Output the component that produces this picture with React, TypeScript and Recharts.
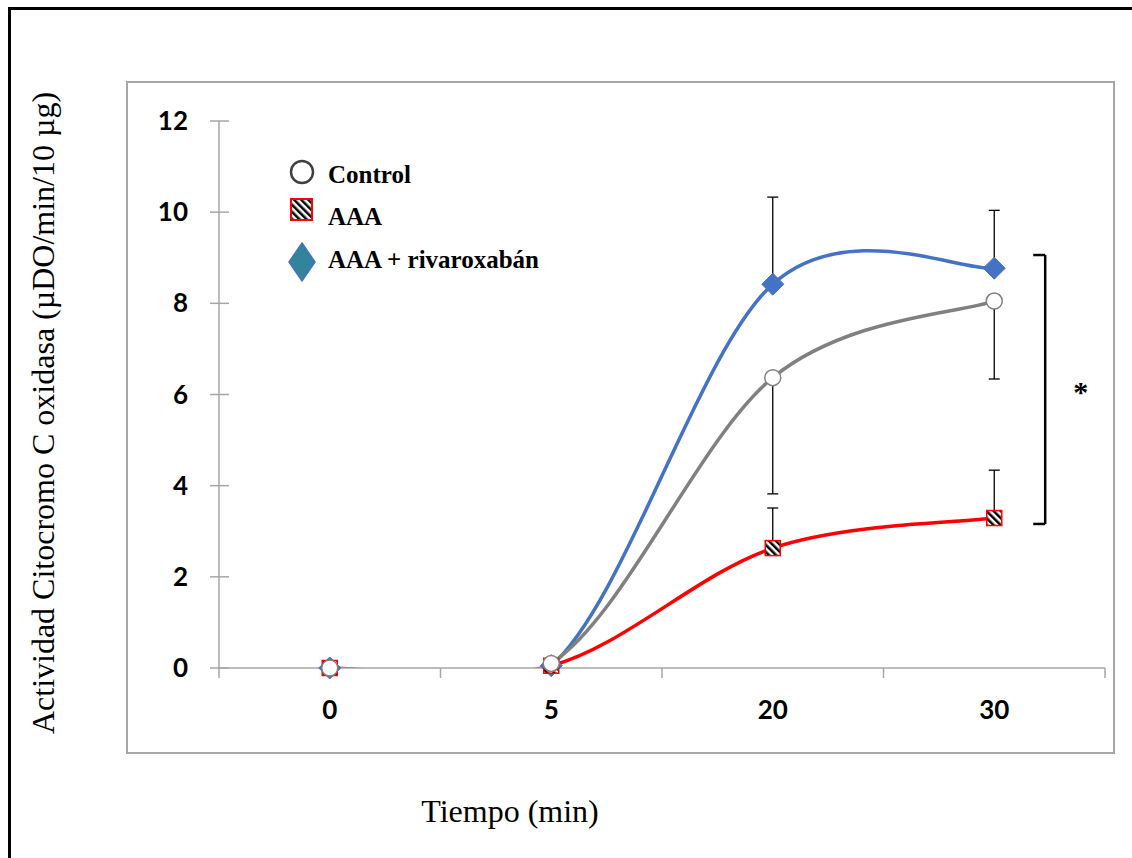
import React from 'react';
import {
  ComposedChart, Line, XAxis, YAxis, ErrorBar, Legend, ReferenceLine, ReferenceDot,
} from 'recharts';

const CATEGORIES = ['0', '5', '20', '30'];
const CONTROL = [0, 0.1, 6.37, 8.05];
const AAA = [0, 0.05, 2.63, 3.29];
const RIVA = [0, 0.05, 8.42, 8.77];
// error bars as drawn in the figure (one side each)
const CONTROL_ERR_DOWN = [0, 0, 2.55, 1.71];
const AAA_ERR_UP = [0, 0, 0.88, 1.05];
const RIVA_ERR_UP = [0, 0, 1.91, 1.27];
const Y_TICKS = [0, 2, 4, 6, 8, 10, 12];
const X_TICKS = [-0.5, 0, 0.5, 1, 1.5, 2, 2.5, 3, 3.5];

const rows = CATEGORIES.map((c, i) => ({
  idx: i,
  name: c,
  control: CONTROL[i],
  aaa: AAA[i],
  riva: RIVA[i],
  controlErr: [CONTROL_ERR_DOWN[i], 0],
  aaaErr: [0, AAA_ERR_UP[i]],
  rivaErr: [0, RIVA_ERR_UP[i]],
}));

const SERIF = '"Liberation Serif", "Times New Roman", serif';
const TICK_FONT = 'Lato, "Liberation Sans", sans-serif';
const AXIS_GREY = '#A6A6A6';

// Excel-like smoothed line (Catmull-Rom as cubic beziers)
function excelSmooth(context: any) {
  let pts: number[][] = [];
  return {
    areaStart() {},
    areaEnd() {},
    lineStart() { pts = []; },
    point(x: number, y: number) { pts.push([+x, +y]); },
    lineEnd() {
      if (!pts.length) return;
      context.moveTo(pts[0][0], pts[0][1]);
      for (let i = 0; i < pts.length - 1; i++) {
        const p0 = pts[i - 1] || pts[i];
        const p1 = pts[i];
        const p2 = pts[i + 1];
        const p3 = pts[i + 2] || p2;
        context.bezierCurveTo(
          p1[0] + (p2[0] - p0[0]) / 6, p1[1] + (p2[1] - p0[1]) / 6,
          p2[0] - (p3[0] - p1[0]) / 6, p2[1] - (p3[1] - p1[1]) / 6,
          p2[0], p2[1],
        );
      }
    },
  };
}

const CircleDot = (props: any) => {
  const { cx, cy, index } = props;
  return <circle key={`c-${index}`} cx={cx} cy={cy} r={8} fill="#fff" stroke="#7F7F7F" strokeWidth={1.5} />;
};

const SquareDot = (props: any) => {
  const { cx, cy, index } = props;
  return (
    <rect key={`s-${index}`} x={cx - 7.5} y={cy - 7.5} width={15} height={15}
      fill="url(#hatch)" stroke="#FF0000" strokeWidth={1.5} />
  );
};

const DiamondDot = (props: any) => {
  const { cx, cy, index } = props;
  const h = 11;
  return (
    <polygon key={`d-${index}`} points={`${cx},${cy - h} ${cx + h},${cy} ${cx},${cy + h} ${cx - h},${cy}`}
      fill="#4472C4" stroke="#4472C4" strokeWidth={1} />
  );
};

const YTick = (props: any) => {
  const { x, y, payload } = props;
  return (
    <g>
      <line x1={x - 9} x2={x + 10} y1={y} y2={y} stroke={AXIS_GREY} strokeWidth={1.5} />
      <text x={x - 31} y={y + 9} textAnchor="end" fontFamily={TICK_FONT} fontWeight="bold" fontSize={26} fill="#000">
        {payload.value}
      </text>
    </g>
  );
};

const XTick = (props: any) => {
  const { x, y, payload } = props;
  const v = payload.value;
  if (Number.isInteger(v)) {
    return (
      <text x={x} y={y + 51} textAnchor="middle" fontFamily={TICK_FONT} fontWeight="bold" fontSize={26} fill="#000">
        {CATEGORIES[v]}
      </text>
    );
  }
  return <line x1={x} x2={x} y1={y} y2={y + 10} stroke={AXIS_GREY} strokeWidth={1.5} />;
};

const LegendBox = () => (
  <svg width={320} height={140}>
    <circle cx={17} cy={22} r={11} fill="#fff" stroke="#404040" strokeWidth={2.5} />
    <text x={43} y={33} fontFamily={SERIF} fontWeight="bold" fontSize={25} fill="#000">Control</text>
    <rect x={6} y={49} width={21} height={21} fill="url(#hatch)" stroke="#FF0000" strokeWidth={2} />
    <text x={43} y={75} fontFamily={SERIF} fontWeight="bold" fontSize={25} fill="#000">AAA</text>
    <polygon points="17,93 30,112 17,131 4,112" fill="#31849B" stroke="#4472C4" strokeWidth={1.5} />
    <text x={43} y={118} fontFamily={SERIF} fontWeight="bold" fontSize={25} fill="#000">AAA + rivaroxabán</text>
  </svg>
);

export default function App() {
  return (
    <div style={{ position: 'absolute', left: 0, top: 0, width: 1132, height: 858, background: '#fff', overflow: 'hidden' }}>
      <svg width={0} height={0} style={{ position: 'absolute' }}>
        <defs>
          <pattern id="hatch" patternUnits="userSpaceOnUse" width={5} height={5} patternTransform="rotate(-45)">
            <rect width={5} height={5} fill="#fff" />
            <rect width={2.5} height={5} fill="#000" />
          </pattern>
        </defs>
      </svg>
      {/* outer frame */}
      <div style={{ position: 'absolute', left: 8, top: 7, width: 1200, height: 900, borderLeft: '3px solid #000', borderTop: '3px solid #000' }} />
      {/* plot frame */}
      <div style={{ position: 'absolute', left: 126, top: 81, width: 985, height: 669, border: `2px solid ${AXIS_GREY}` }} />

      <div style={{ position: 'absolute', left: 0, top: 0 }}>
        <ComposedChart width={1132} height={858} data={rows} margin={{ top: 121, right: 27, bottom: 130, left: 0 }}>
          <XAxis
            type="number"
            dataKey="idx"
            domain={[-0.5, 3.5]}
            ticks={X_TICKS}
            interval={0}
            height={60}
            tickSize={0}
            tickMargin={0}
            tickLine={false}
            axisLine={{ stroke: AXIS_GREY, strokeWidth: 1.5 }}
            tick={<XTick />}
          />
          <YAxis
            yAxisId="main"
            type="number"
            domain={[0, 12]}
            ticks={Y_TICKS}
            interval={0}
            width={219}
            tickSize={0}
            tickMargin={0}
            tickLine={false}
            axisLine={{ stroke: AXIS_GREY, strokeWidth: 1.5 }}
            tick={<YTick />}
          />
          {/* same scale, but clips the smoothed lines to the plot area like Excel does */}
          <YAxis yAxisId="clip" type="number" domain={[0, 12]} allowDataOverflow hide width={0} />
          <Legend layout="vertical" align="center" verticalAlign="middle" content={<LegendBox />}
            wrapperStyle={{ left: 285, top: 150, width: 320, height: 140 }} />
          <ReferenceLine yAxisId="main" segment={[{ x: 3.23, y: 9.06 }, { x: 3.23, y: 3.16 }]} stroke="#000" strokeWidth={2.5} />
          <ReferenceLine yAxisId="main" segment={[{ x: 3.176, y: 9.06 }, { x: 3.23, y: 9.06 }]} stroke="#000" strokeWidth={2.5} />
          <ReferenceLine yAxisId="main" segment={[{ x: 3.176, y: 3.16 }, { x: 3.23, y: 3.16 }]} stroke="#000" strokeWidth={2.5} />
          <ReferenceDot yAxisId="main" x={3.39} y={6.08} r={0} fill="none" stroke="none"
            label={{ value: '*', position: 'center', fontSize: 30, fontFamily: SERIF, fontWeight: 'bold', fill: '#000' }} />

          <Line yAxisId="clip" dataKey="riva" type={excelSmooth as any} stroke="#4472C4" strokeWidth={3.5} dot={false} activeDot={false} isAnimationActive={false} />
          <Line yAxisId="clip" dataKey="aaa" type={excelSmooth as any} stroke="#FF0000" strokeWidth={3.5} dot={false} activeDot={false} isAnimationActive={false} />
          <Line yAxisId="clip" dataKey="control" type={excelSmooth as any} stroke="#808080" strokeWidth={3.5} dot={false} activeDot={false} isAnimationActive={false} />

          <Line yAxisId="main" dataKey="riva" stroke="none" dot={DiamondDot} activeDot={false} legendType="none" isAnimationActive={false}>
            <ErrorBar dataKey="rivaErr" direction="y" width={5.5} stroke="#000" strokeWidth={1.3} />
          </Line>
          <Line yAxisId="main" dataKey="aaa" stroke="none" dot={SquareDot} activeDot={false} legendType="none" isAnimationActive={false}>
            <ErrorBar dataKey="aaaErr" direction="y" width={5.5} stroke="#000" strokeWidth={1.3} />
          </Line>
          <Line yAxisId="main" dataKey="control" stroke="none" dot={CircleDot} activeDot={false} legendType="none" isAnimationActive={false}>
            <ErrorBar dataKey="controlErr" direction="y" width={5.5} stroke="#000" strokeWidth={1.3} />
          </Line>
        </ComposedChart>
      </div>

      {/* axis titles */}
      <svg width={1132} height={858} style={{ position: 'absolute', left: 0, top: 0, pointerEvents: 'none' }}>
        <text x={54} y={413} transform="rotate(-90 54 413)" textAnchor="middle" fontFamily={SERIF} fontSize={32} fill="#000">
          Actividad Citocromo C oxidasa (µDO/min/10 µg)
        </text>
        <text x={510} y={822} textAnchor="middle" fontFamily={SERIF} fontSize={32} fill="#000">
          Tiempo (min)
        </text>
      </svg>
    </div>
  );
}
